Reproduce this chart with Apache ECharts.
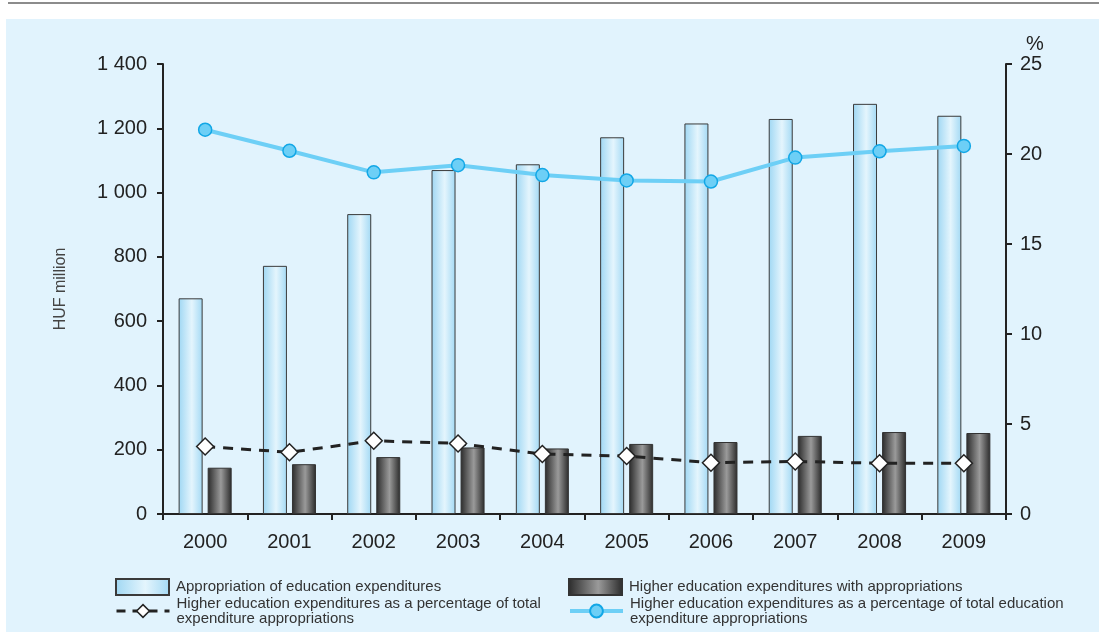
<!DOCTYPE html>
<html>
<head>
<meta charset="utf-8">
<script src="https://cdn.jsdelivr.net/npm/echarts@6/dist/echarts.min.js"></script>
<style>
html,body{margin:0;padding:0;background:#fff;}
#chart{width:1099px;height:632px;}
</style>
</head>
<body>
<div id="chart"></div>
<script>
const years = ['2000','2001','2002','2003','2004','2005','2006','2007','2008','2009'];
const appropriation = [671, 772, 933, 1070, 1088, 1172, 1215, 1229, 1276, 1239];
const higherEdu = [144, 155, 177, 207, 204, 218, 224, 243, 255, 252];
const pctTotalAppropriations = [3.75, 3.43, 4.07, 3.92, 3.33, 3.22, 2.85, 2.92, 2.82, 2.82];
const pctEducationAppropriations = [21.35, 20.18, 18.98, 19.38, 18.83, 18.53, 18.47, 19.8, 20.15, 20.45];
const leftTicks = {min: 0, max: 1400, interval: 200};
const rightTicks = {min: 0, max: 25, interval: 5};

const names = [
  'Appropriation of education expenditures',
  'Higher education expenditures with appropriations',
  'Higher education expenditures as a percentage of total expenditure appropriations',
  'Higher education expenditures as a percentage of total education expenditure appropriations'
];
const legendText = {
  [names[0]]: 'Appropriation of education expenditures',
  [names[1]]: 'Higher education expenditures with appropriations',
  [names[2]]: 'Higher education expenditures as a percentage of total\nexpenditure appropriations',
  [names[3]]: 'Higher education expenditures as a percentage of total education\nexpenditure appropriations'
};

const FONT = 'Liberation Sans, Arial, sans-serif';

const chart = echarts.init(document.getElementById('chart'));
const lightGrad = new echarts.graphic.LinearGradient(0,0,1,0,[
  {offset:0,color:'#9fd7f3'},{offset:0.55,color:'#e4f5fd'},{offset:1,color:'#a3d9f4'}]);
const darkGrad = new echarts.graphic.LinearGradient(0,0,1,0,[
  {offset:0,color:'#2a2a2a'},{offset:0.55,color:'#9a9a9a'},{offset:1,color:'#2a2a2a'}]);

function legendItem(name, left, top, extra){
  return Object.assign({
    data:[name], left:left, top:top, orient:'horizontal',
    itemWidth:53, itemHeight:16, itemGap:0, selectedMode:false,
    formatter: n => legendText[n],
    textStyle:{fontFamily:FONT, fontSize:15, color:'#333', lineHeight:15, padding:[0,0,0,2]}
  }, extra||{});
}

const option = {
  backgroundColor:'#ffffff',
  animation:false,
  graphic:[
    {type:'rect', left:8, top:2, shape:{width:1091, height:2}, style:{fill:'#8c8c8c'}, silent:true, z:-10},
    {type:'rect', left:6, top:19, shape:{width:1093, height:613}, style:{fill:'#e1f3fd'}, silent:true, z:-10},
    {type:'text', left:1026, top:34, style:{text:'%', font:'20px ' + FONT, fill:'#222'}}
  ],
  grid:{left:163, right:93, top:64, bottom:118, containLabel:false},
  legend:[
    legendItem(names[0], 110, 573, {icon:'rect'}),
    legendItem(names[2], 110, 591, {lineStyle:{width:3, color:'#222', type:[9,7]}, itemStyle:{borderWidth:1.5}}),
    legendItem(names[1], 563, 573, {icon:'rect'}),
    legendItem(names[3], 563, 591, {lineStyle:{width:4, color:'#6dcff6'}})
  ],
  xAxis:{
    type:'category', data:years, boundaryGap:true,
    axisLine:{lineStyle:{color:'#222', width:2}},
    axisTick:{show:true, alignWithLabel:false, length:6, lineStyle:{color:'#222', width:2}},
    axisLabel:{fontFamily:FONT, fontSize:20, color:'#222', margin:18}
  },
  yAxis:[
    {type:'value', min:leftTicks.min, max:leftTicks.max, interval:leftTicks.interval,
     name:'HUF million', nameLocation:'middle', nameGap:94,
     nameTextStyle:{fontFamily:FONT, fontSize:16, color:'#444'},
     axisLine:{show:true, lineStyle:{color:'#222', width:2}},
     axisTick:{show:true, length:6, lineStyle:{color:'#222', width:2}},
     splitLine:{show:false},
     axisLabel:{fontFamily:FONT, fontSize:20, color:'#222', margin:16,
       formatter: v => String(v).replace(/\B(?=(\d{3})+(?!\d))/g,' ')}},
    {type:'value', position:'right', min:rightTicks.min, max:rightTicks.max, interval:rightTicks.interval,
     axisLine:{show:true, lineStyle:{color:'#222', width:2}},
     axisTick:{show:true, length:6, lineStyle:{color:'#222', width:2}},
     splitLine:{show:false},
     axisLabel:{fontFamily:FONT, fontSize:20, color:'#222', margin:14}}
  ],
  series:[
    {name:names[0], type:'bar', data:appropriation, barWidth:24, barGap:'21%',
     itemStyle:{color:lightGrad, borderColor:'#3a3a3a', borderWidth:1}},
    {name:names[1], type:'bar', data:higherEdu, barWidth:24, barGap:'21%',
     itemStyle:{color:darkGrad, borderColor:'#333', borderWidth:1}},
    {name:names[2], type:'line', yAxisIndex:1, data:pctTotalAppropriations, z:5,
     symbol:'diamond', symbolSize:[17,17], showAllSymbol:true,
     lineStyle:{color:'#222', width:3, type:[10,8]},
     itemStyle:{color:'#ffffff', borderColor:'#222', borderWidth:1.5}},
    {name:names[3], type:'line', yAxisIndex:1, data:pctEducationAppropriations, z:5,
     symbol:'circle', symbolSize:13, showAllSymbol:true,
     lineStyle:{color:'#6dcff6', width:4},
     itemStyle:{color:'#6dcff6', borderColor:'#12a7e6', borderWidth:1.5}}
  ]
};
chart.setOption(option);
</script>
</body>
</html>
